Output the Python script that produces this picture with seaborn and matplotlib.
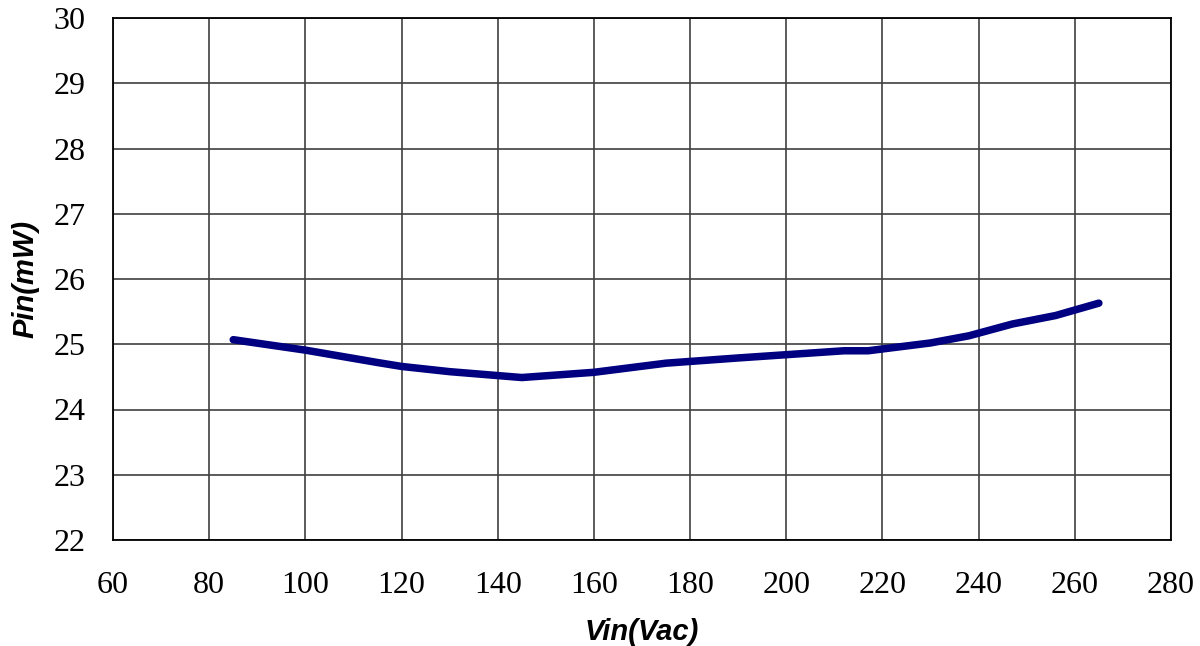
import matplotlib
matplotlib.use("Agg")
import matplotlib.pyplot as plt
import seaborn as sns
import pandas as pd

vin = [85, 100, 115, 120, 130, 145, 160, 175, 190, 200, 212, 217, 230, 238, 247, 256, 265]
pin = [25.07, 24.91, 24.72, 24.66, 24.58, 24.49, 24.57, 24.71, 24.79, 24.84, 24.90, 24.90, 25.02, 25.13, 25.31, 25.44, 25.63]
x_ticks = [60, 80, 100, 120, 140, 160, 180, 200, 220, 240, 260, 280]
y_ticks = [22, 23, 24, 25, 26, 27, 28, 29, 30]

sns.set_theme(style="white")
df = pd.DataFrame({"Vin": vin, "Pin": pin})

fig = plt.figure(figsize=(12, 6.46), dpi=100)
ax = fig.add_axes([113/1200, 1 - 540/646, (1171-113)/1200, (540-18)/646])
sns.lineplot(data=df, x="Vin", y="Pin", ax=ax, color="#000080", linewidth=5.4,
             solid_capstyle="round", solid_joinstyle="round")
ax.set_xlim(60, 280)
ax.set_ylim(22, 30)
ax.set_xticks(x_ticks)
ax.set_yticks(y_ticks)
ax.grid(True, color="#404040", linewidth=1.2)
ax.set_axisbelow(True)
for s in ax.spines.values():
    s.set_color("black")
    s.set_linewidth(1.3)
ax.tick_params(length=0, labelsize=23)
for lab in ax.get_xticklabels() + ax.get_yticklabels():
    lab.set_family("Liberation Serif")
    lab.set_color("black")
ax.tick_params(axis="y", pad=20)
ax.tick_params(axis="x", pad=22)
ax.set_xlabel("Vin(Vac)", fontsize=21, fontweight="bold", fontstyle="italic", color="black",
              family=["Liberation Sans Narrow", "Liberation Sans", "DejaVu Sans"], labelpad=13)
ax.set_ylabel("Pin(mW)", fontsize=21, fontweight="bold", fontstyle="italic", color="black",
              family=["Liberation Sans Narrow", "Liberation Sans", "DejaVu Sans"], labelpad=10)
fig.savefig("out.png", dpi=100)
